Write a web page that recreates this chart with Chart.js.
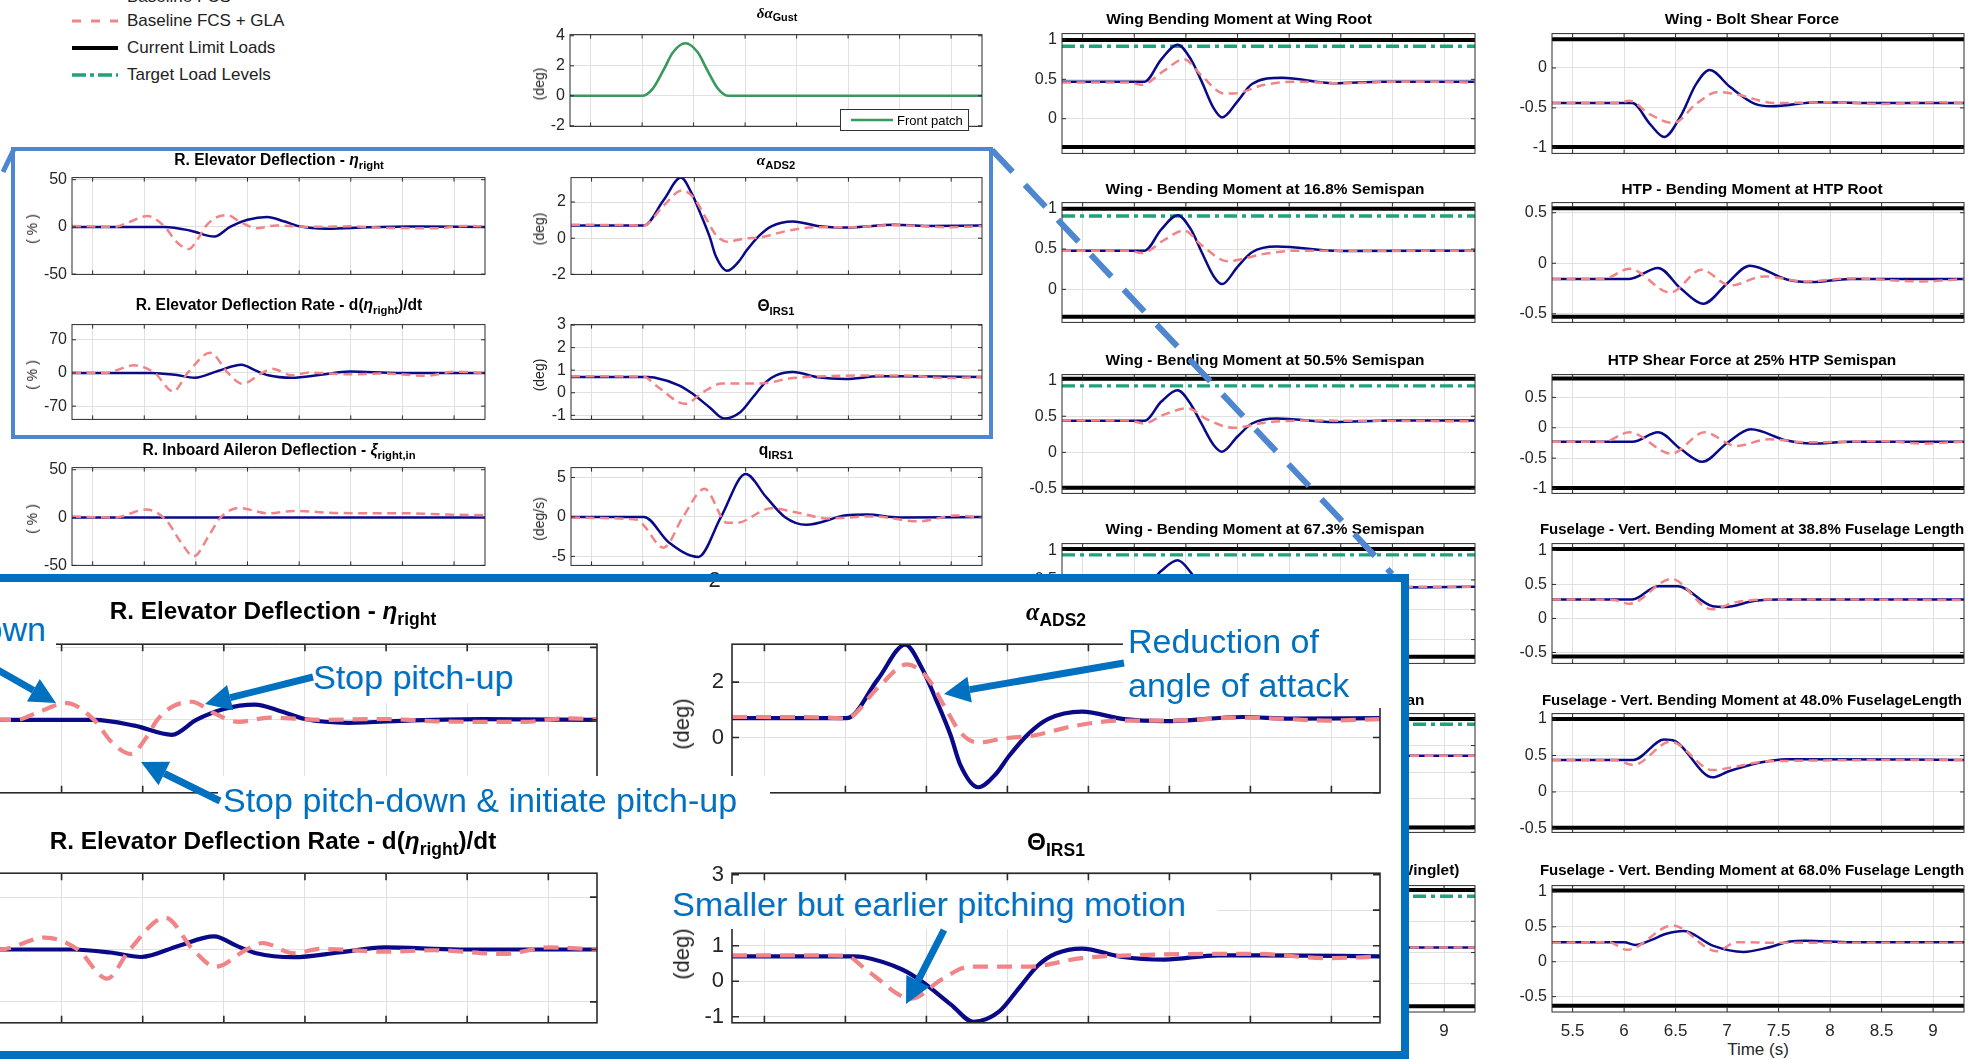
<!DOCTYPE html>
<html>
<head>
<meta charset="utf-8">
<title>Gust response - Baseline FCS vs. GLA</title>
<script src="https://cdn.jsdelivr.net/npm/chart.js@4.4.1/dist/chart.umd.min.js"></script>
<style>
  html, body { margin: 0; padding: 0; background: #fff; }
  body { position: relative; width: 1987px; height: 1059px; overflow: hidden; font-family: 'Liberation Sans', Arial, sans-serif; color: #000; }
  canvas { position: absolute; }
  .txt { position: absolute; white-space: nowrap; line-height: 1; }
  .ttl { font-weight: bold; transform: translateX(-50%); }
  .ttl sub { font-size: 72%; vertical-align: -0.32em; line-height: 0; }
  .ylab { transform: translate(-50%, -50%) rotate(-90deg); color: #262626; }
  .note { color: #0070c0; font-size: 34px; background: #fff; z-index: 6; }
  .g { font-family: 'Liberation Serif', 'DejaVu Serif', serif; }
</style>
</head>
<body>
<script>
// time axis (s)
const timeMin = 5.3, timeMax = 9.3;
const timeTicks = [5.5, 6, 6.5, 7, 7.5, 8, 8.5, 9];

// gust input, front patch (deg)
const gustFront = [[5.3,0],[6.0,0],[6.1,0.45],[6.21,1.75],[6.3,2.9],[6.42,3.5],[6.54,2.9],[6.63,1.75],[6.74,0.45],[6.84,0],[9.3,0]];

// R. elevator deflection (%)
const elevBase = [[5.3,0],[6.2,0],[6.45,-4],[6.68,-10.3],[6.83,0],[7.0,7.5],[7.19,10.5],[7.35,6],[7.5,0.6],[7.77,-2],[8.16,-0.4],[8.6,0.5],[9.3,0]];
const elevGla = [[5.3,1],[5.72,0],[5.85,5],[6.03,11.5],[6.2,0],[6.31,-15.5],[6.43,-23.5],[6.52,-12.5],[6.59,0],[6.68,9],[6.8,12.5],[6.94,4.6],[7.09,-1.4],[7.28,1.6],[7.59,0],[8.0,0.6],[8.3,-1],[8.85,-1.4],[9.1,1],[9.3,0.5]];

// alpha ADS2 (deg)
const alphaBase = [[5.3,0.7],[6.01,0.7],[6.2,2.1],[6.37,3.35],[6.47,2.53],[6.56,1.36],[6.65,0.07],[6.71,-1.0],[6.82,-1.8],[6.93,-1.31],[7.01,-0.67],[7.13,0.13],[7.25,0.66],[7.46,0.93],[7.72,0.66],[7.97,0.59],[8.45,0.74],[8.75,0.68],[9.3,0.7]];
const alphaGla = [[5.3,0.74],[5.9,0.72],[6.0,0.68],[6.2,1.79],[6.38,2.64],[6.5,2.2],[6.61,1.14],[6.71,0.18],[6.82,-0.19],[6.98,-0.03],[7.16,0.07],[7.4,0.4],[7.7,0.61],[8.0,0.61],[8.45,0.72],[8.75,0.66],[8.96,0.61],[9.3,0.66]];

// R. elevator deflection rate (%/s)
const rateBase = [[5.3,0],[6.07,0],[6.3,-4],[6.49,-10],[6.72,4.8],[6.94,17.5],[7.08,4.8],[7.2,-5],[7.43,-10.3],[7.71,-4],[7.99,2.8],[8.45,0],[9.3,0]];
const rateGla = [[5.3,1],[5.62,0],[5.9,16],[6.1,0],[6.28,-39],[6.42,0],[6.64,42.5],[6.81,0],[6.95,-23],[7.14,0],[7.24,8.7],[7.43,-5],[7.6,0.8],[8.0,-3],[8.3,-1],[8.73,-6],[9.0,2.8],[9.3,0]];

// theta IRS1 (deg)
const thetaBase = [[5.3,0.7],[6.05,0.7],[6.11,0.68],[6.35,0.33],[6.47,0],[6.65,-0.65],[6.79,-1.14],[6.95,-0.85],[7.07,-0.2],[7.19,0.45],[7.3,0.78],[7.46,0.92],[7.7,0.69],[7.97,0.61],[8.3,0.73],[8.57,0.73],[9.3,0.7]];
const thetaGla = [[5.3,0.73],[6.0,0.72],[6.14,0.28],[6.41,-0.49],[6.59,0.04],[6.77,0.41],[7.01,0.41],[7.13,0.41],[7.46,0.65],[7.76,0.73],[8.54,0.77],[8.96,0.65],[9.3,0.69]];

// R. inboard aileron deflection (%)
const aileronBase = [[5.3,0],[9.3,0]];
const aileronGla = [[5.3,1.2],[5.71,0],[6.02,8.4],[6.21,-2.5],[6.35,-25],[6.48,-40.5],[6.62,-20],[6.73,-1],[6.92,10],[7.2,4.4],[7.45,6.9],[7.88,4.7],[8.56,4.4],[8.93,3.1],[9.3,2.5]];

// q IRS1 (deg/s)
const qBase = [[5.3,0],[6.01,0],[6.25,-3.2],[6.54,-5.06],[6.76,0],[7.0,5.43],[7.2,2.5],[7.38,0],[7.59,-1.0],[7.98,0.2],[8.18,0.3],[8.49,-0.07],[9.3,0]];
const qGla = [[5.3,-0.1],[5.95,-0.37],[6.01,-1.1],[6.2,-3.9],[6.39,0],[6.6,3.56],[6.82,-0.75],[6.91,-0.75],[7.25,1.1],[7.5,0.56],[7.8,-0.19],[8.24,0.07],[8.68,-0.56],[9.05,0.19],[9.3,-0.1]];

// loads, normalised
const rootBase = [[5.3,0.47],[6.1,0.47],[6.26,0.75],[6.42,0.94],[6.55,0.75],[6.65,0.48],[6.77,0.13],[6.85,0.016],[7.0,0.22],[7.14,0.44],[7.43,0.52],[7.93,0.45],[8.4,0.47],[9.3,0.47]];
const rootGla = [[5.3,0.46],[5.95,0.46],[6.07,0.43],[6.3,0.62],[6.48,0.756],[6.65,0.55],[6.87,0.32],[6.96,0.32],[7.26,0.43],[7.56,0.47],[8.0,0.45],[8.6,0.47],[9.3,0.46]];
const rootLimits = [1.0, -0.36], rootTarget = 0.92;

const boltBase = [[5.3,-0.44],[6.08,-0.44],[6.25,-0.7],[6.39,-0.865],[6.55,-0.6],[6.7,-0.2],[6.83,-0.026],[7.03,-0.24],[7.27,-0.45],[7.43,-0.48],[7.88,-0.43],[8.49,-0.44],[9.3,-0.44]];
const boltGla = [[5.3,-0.44],[5.95,-0.44],[6.05,-0.41],[6.25,-0.58],[6.48,-0.69],[6.7,-0.45],[6.91,-0.3],[7.12,-0.34],[7.46,-0.44],[8.0,-0.43],[8.5,-0.45],[9.0,-0.43],[9.3,-0.44]];
const boltLimits = [0.36, -0.99];

const s168Base = [[5.3,0.48],[6.1,0.48],[6.26,0.74],[6.42,0.92],[6.55,0.74],[6.65,0.47],[6.77,0.16],[6.85,0.065],[7.0,0.28],[7.14,0.46],[7.38,0.53],[7.99,0.475],[9.3,0.48]];
const s168Gla = [[5.3,0.48],[5.95,0.48],[6.07,0.45],[6.3,0.62],[6.48,0.73],[6.65,0.55],[6.9,0.35],[7.26,0.44],[7.56,0.48],[9.3,0.48]];
const s168Limits = [1.0, -0.34], s168Target = 0.91;

const htpRootBase = [[5.3,-0.155],[6.05,-0.155],[6.33,-0.046],[6.55,-0.25],[6.77,-0.4],[7.0,-0.2],[7.22,-0.024],[7.58,-0.16],[7.82,-0.186],[8.19,-0.155],[9.3,-0.155]];
const htpRootGla = [[5.3,-0.155],[5.8,-0.155],[6.05,-0.055],[6.45,-0.29],[6.75,-0.064],[7.03,-0.22],[7.36,-0.13],[7.76,-0.18],[8.2,-0.15],[8.9,-0.18],[9.3,-0.155]];
const htpRootLimits = [0.545, -0.53];

const s505Base = [[5.3,0.437],[6.1,0.437],[6.26,0.7],[6.42,0.86],[6.55,0.66],[6.65,0.4],[6.77,0.1],[6.85,0.01],[7.0,0.22],[7.14,0.4],[7.38,0.47],[7.93,0.42],[8.5,0.44],[9.3,0.44]];
const s505Gla = [[5.3,0.44],[5.95,0.44],[6.09,0.4],[6.3,0.53],[6.52,0.61],[6.7,0.46],[6.96,0.34],[7.26,0.41],[7.6,0.44],[9.3,0.43]];
const s505Limits = [1.02, -0.49], s505Target = 0.92;

const htpShearBase = [[5.3,-0.23],[6.08,-0.23],[6.33,-0.075],[6.55,-0.35],[6.76,-0.56],[7.0,-0.25],[7.23,-0.025],[7.58,-0.21],[7.82,-0.26],[8.2,-0.23],[9.3,-0.23]];
const htpShearGla = [[5.3,-0.23],[5.8,-0.23],[6.05,-0.075],[6.46,-0.425],[6.78,-0.075],[7.09,-0.3],[7.4,-0.19],[7.8,-0.24],[8.5,-0.22],[8.9,-0.26],[9.3,-0.23]];
const htpShearLimits = [0.81, -0.99];

const s673Base = [[5.3,0.385],[6.1,0.385],[6.26,0.65],[6.42,0.83],[6.55,0.62],[6.65,0.35],[6.85,-0.05],[7.14,0.33],[7.38,0.42],[7.93,0.37],[9.3,0.385]];
const s673Gla = [[5.3,0.385],[6.07,0.35],[6.52,0.57],[6.96,0.28],[7.6,0.385],[9.3,0.385]];
const s673Limits = [1.02, -0.79], s673Target = 0.92;

const fus388Base = [[5.3,0.28],[6.08,0.28],[6.33,0.475],[6.52,0.475],[6.86,0.18],[6.98,0.17],[7.27,0.26],[7.52,0.28],[9.3,0.28]];
const fus388Gla = [[5.3,0.28],[5.9,0.27],[6.05,0.215],[6.46,0.58],[6.85,0.135],[7.09,0.24],[7.5,0.28],[9.3,0.27]];
const fus388Limits = [1.02, -0.56];

const s840Base = [[5.3,0.31],[9.3,0.31]];
const s840Gla = [[5.3,0.31],[9.3,0.31]];
const s840Limits = [1.0, -1.04], s840Target = 0.9;

const fus48Base = [[5.3,0.44],[6.09,0.44],[6.39,0.72],[6.49,0.7],[6.86,0.2],[7.01,0.28],[7.31,0.4],[7.58,0.45],[9.3,0.44]];
const fus48Gla = [[5.3,0.44],[5.9,0.44],[6.09,0.37],[6.45,0.69],[6.86,0.3],[7.09,0.35],[7.39,0.42],[9.3,0.44]];
const fus48Limits = [1.0, -0.49];

const tipBase = [[5.3,0.08],[9.3,0.08]];
const tipGla = [[5.3,0.08],[9.3,0.08]];
const tipLimits = [1.0, -0.86], tipTarget = 0.9;

const fus68Base = [[5.3,0.28],[6.0,0.28],[6.11,0.24],[6.26,0.31],[6.41,0.4],[6.58,0.44],[6.86,0.23],[7.16,0.14],[7.39,0.2],[7.61,0.29],[7.76,0.3],[8.2,0.28],[9.3,0.28]];
const fus68Gla = [[5.3,0.27],[5.85,0.28],[6.03,0.17],[6.47,0.52],[6.9,0.15],[7.09,0.28],[7.5,0.27],[9.3,0.27]];
const fus68Limits = [1.02, -0.63];

const FONT = "'Liberation Sans', Arial, sans-serif";
const NAVY = '#0a0a88', PINK = '#f18486', GREEN = '#1fa37a', GUSTGREEN = '#38995c';
const GRID = '#e0e0e0', AXIS = '#2a2a2a', LABEL = '#262626', BLUE = '#0070c0', LIGHTBLUE = '#4f86d0';

Chart.defaults.font.family = FONT;

const pts = a => a.map(([x, y]) => ({ x, y }));
const flat = v => pts([[timeMin, v], [timeMax, v]]);

// matlab-like box with inward ticks
const boxPlugin = {
  id: 'box',
  afterDraw(chart, args, opts) {
    const { ctx, chartArea: a, scales } = chart;
    const t = opts.tick;
    ctx.save();
    ctx.strokeStyle = AXIS;
    ctx.lineWidth = opts.lw;
    ctx.strokeRect(a.left, a.top, a.right - a.left, a.bottom - a.top);
    ctx.beginPath();
    scales.x.ticks.forEach(k => {
      const px = scales.x.getPixelForValue(k.value);
      ctx.moveTo(px, a.bottom); ctx.lineTo(px, a.bottom - t);
      ctx.moveTo(px, a.top); ctx.lineTo(px, a.top + t);
    });
    scales.y.ticks.forEach(k => {
      const py = scales.y.getPixelForValue(k.value);
      ctx.moveTo(a.left, py); ctx.lineTo(a.left + t, py);
      ctx.moveTo(a.right, py); ctx.lineTo(a.right - t, py);
    });
    ctx.stroke();
    ctx.restore();
  }
};

function addChart(o) {
  const [x0, y0, x1, y1] = o.plot;
  const big = !!o.big;
  const padL = o.padL || 46, padT = big ? 18 : 12, padR = 12, padB = o.xLabels ? 34 : 6;
  const w = Math.round(x1 - x0 + padL + padR), h = Math.round(y1 - y0 + padT + padB);
  const cv = document.createElement('canvas');
  cv.width = w; cv.height = h;
  cv.style.left = (x0 - padL) + 'px';
  cv.style.top = (y0 - padT) + 'px';
  cv.style.zIndex = o.z || 1;
  document.body.appendChild(cv);

  const lw = big ? 4.2 : 2.5;
  const ds = [];
  if (o.gla) ds.push({ data: pts(o.gla), borderColor: PINK, borderWidth: lw, borderDash: big ? [15, 9] : [9, 5.5], cubicInterpolationMode: 'monotone', order: 1 });
  if (o.base) ds.push({ data: pts(o.base), borderColor: NAVY, borderWidth: lw, cubicInterpolationMode: 'monotone', order: 2 });
  if (o.gust) ds.push({ data: pts(o.gust), borderColor: GUSTGREEN, borderWidth: 2.6, cubicInterpolationMode: 'monotone', order: 2 });
  if (o.target !== undefined) ds.push({ data: flat(o.target), borderColor: GREEN, borderWidth: 3.4, borderDash: [13, 5, 4, 5], order: 3 });
  (o.limits || []).forEach(v => ds.push({ data: flat(v), borderColor: '#000', borderWidth: 4, order: 4 }));

  new Chart(cv, {
    type: 'line',
    data: { datasets: ds },
    options: {
      responsive: false,
      animation: false,
      devicePixelRatio: 1,
      layout: { padding: { top: padT, right: padR, left: 0, bottom: 0 } },
      elements: { point: { radius: 0 }, line: { fill: false } },
      plugins: {
        legend: { display: false },
        tooltip: { enabled: false },
        box: { tick: big ? 7 : 4, lw: big ? 1.6 : 1 }
      },
      scales: {
        x: {
          type: 'linear', min: timeMin, max: timeMax,
          afterBuildTicks: s => { s.ticks = timeTicks.map(v => ({ value: v })); },
          afterFit: s => { s.height = padB; },
          grid: { color: GRID, drawTicks: false },
          border: { display: false },
          ticks: { display: !!o.xLabels, autoSkip: false, maxRotation: 0, padding: 9, color: LABEL, font: { size: 17 }, callback: v => String(v) }
        },
        y: {
          type: 'linear', min: o.range[0], max: o.range[1],
          afterBuildTicks: s => { s.ticks = o.ticks.map(v => ({ value: v })); },
          afterFit: s => { s.width = padL; },
          grid: { color: GRID, drawTicks: false },
          border: { display: false },
          ticks: { padding: big ? 8 : 5, color: LABEL, font: { size: o.tickSize || 16 }, callback: v => String(v) }
        }
      }
    },
    plugins: [boxPlugin]
  });
}

function addText(html, x, y, cls, css) {
  const d = document.createElement('div');
  d.className = cls;
  d.innerHTML = html;
  d.style.cssText = `left:${x}px;top:${y}px;` + (css || '');
  document.body.appendChild(d);
  return d;
}
const title = (html, cx, base, size, z) => addText(html, cx, base - 0.86 * size, 'txt ttl', `font-size:${size}px;z-index:${z || 1}`);
const yLabel = (s, cx, cy, size, z) => addText(s, cx, cy, 'txt ylab', `font-size:${size}px;z-index:${z || 1}`);
const note = (s, x, cy, right) => addText(s, x, cy - 19, 'txt note', right ? 'transform:translateX(-100%)' : '');
const whiteBox = (x0, y0, x1, y1) => addText('', x0, y0, 'txt', `width:${x1 - x0}px;height:${y1 - y0}px;background:#fff;z-index:5`);

// ---------- left column: small plots ----------
const ST = 15.6;
addChart({ plot: [570, 32, 982, 135], range: [-2.04, 4.08], ticks: [-2, 0, 2, 4], gust: gustFront, padL: 40 });
title('<i class="g">δα</i><sub>Gust</sub>', 777, 18, 15);
yLabel('(deg)', 539, 84, 14);
addText(`<svg width="44" height="20" style="position:absolute;left:8px;top:0"><line x1="2" y1="10" x2="44" y2="10" stroke="${GUSTGREEN}" stroke-width="2.6"/></svg><span style="position:absolute;left:56px;top:4px;font-size:13px">Front patch</span>`,
  840, 109, 'txt', 'width:127px;height:20px;border:1px solid #333;background:#fff;z-index:2');

addChart({ plot: [72, 175, 485, 283], range: [-50.3, 52.2], ticks: [-50, 0, 50], base: elevBase, gla: elevGla, padL: 40 });
title('R. Elevator Deflection - <i>η</i><sub>right</sub>', 279, 165, ST);
yLabel('( % )', 32, 229, 14);

addChart({ plot: [571, 175, 982, 283], range: [-2, 3.35], ticks: [-2, 0, 2], base: alphaBase, gla: alphaGla, padL: 40 });
title('<i class="g">α</i><sub>ADS2</sub>', 776, 165, ST);
yLabel('(deg)', 539, 229, 14);

addChart({ plot: [72, 322, 485, 428], range: [-98, 102], ticks: [-70, 0, 70], base: rateBase, gla: rateGla, padL: 40 });
title('R. Elevator Deflection Rate - d(<i>η</i><sub>right</sub>)/dt', 279, 310, ST);
yLabel('( % )', 32, 375, 14);

addChart({ plot: [571, 322, 982, 428], range: [-1.18, 3.02], ticks: [-1, 0, 1, 2, 3], base: thetaBase, gla: thetaGla, padL: 40 });
title('Θ<sub>IRS1</sub>', 776, 311, ST);
yLabel('(deg)', 539, 375, 14);

addChart({ plot: [72, 465, 485, 574], range: [-50, 52.2], ticks: [-50, 0, 50], base: aileronBase, gla: aileronGla, padL: 40 });
title('R. Inboard Aileron Deflection - <i>ξ</i><sub>right,in</sub>', 279, 455, ST);
yLabel('( % )', 32, 519, 14);

addChart({ plot: [571, 465, 982, 574], range: [-6.14, 6.25], ticks: [-5, 0, 5], base: qBase, gla: qGla, padL: 40 });
title('q<sub>IRS1</sub>', 776, 455, ST);
yLabel('(deg/s)', 539, 519, 14);

// ---------- right columns: loads ----------
const colA = [1062, 1475], colB = [1552, 1964];
const rows = [[31, 162], [200, 331], [372, 502], [541, 672], [711, 841], [883, 1012]];
const rowBase = [24, 194, 365, 534, 705, 875];
const cA = 1265, cB = 1752, RT = 15.4;
const P = (col, r) => [col[0], rows[r][0], col[1], rows[r][1]];

addChart({ plot: P(colA, 0), range: [-0.44, 1.08], ticks: [0, 0.5, 1], base: rootBase, gla: rootGla, limits: rootLimits, target: rootTarget });
title('Wing Bending Moment at Wing Root', 1239, rowBase[0], RT);
addChart({ plot: P(colB, 0), range: [-1.07, 0.43], ticks: [-1, -0.5, 0], base: boltBase, gla: boltGla, limits: boltLimits });
title('Wing - Bolt Shear Force', cB, rowBase[0], RT);

addChart({ plot: P(colA, 1), range: [-0.41, 1.076], ticks: [0, 0.5, 1], base: s168Base, gla: s168Gla, limits: s168Limits, target: s168Target });
title('Wing - Bending Moment at 16.8% Semispan', cA, rowBase[1], RT);
addChart({ plot: P(colB, 1), range: [-0.585, 0.6], ticks: [-0.5, 0, 0.5], base: htpRootBase, gla: htpRootGla, limits: htpRootLimits });
title('HTP - Bending Moment at HTP Root', cB, rowBase[1], RT);

addChart({ plot: P(colA, 2), range: [-0.567, 1.076], ticks: [-0.5, 0, 0.5, 1], base: s505Base, gla: s505Gla, limits: s505Limits, target: s505Target });
title('Wing - Bending Moment at 50.5% Semispan', cA, rowBase[2], RT);
addChart({ plot: P(colB, 2), range: [-1.08, 0.875], ticks: [-1, -0.5, 0, 0.5], base: htpShearBase, gla: htpShearGla, limits: htpShearLimits });
title('HTP Shear Force at 25% HTP Semispan', cB, rowBase[2], RT);

addChart({ plot: P(colA, 3), range: [-0.9, 1.11], ticks: [-0.5, 0, 0.5, 1], base: s673Base, gla: s673Gla, limits: s673Limits, target: s673Target });
title('Wing - Bending Moment at 67.3% Semispan', cA, rowBase[3], RT);
addChart({ plot: P(colB, 3), range: [-0.66, 1.1], ticks: [-0.5, 0, 0.5, 1], base: fus388Base, gla: fus388Gla, limits: fus388Limits });
title('Fuselage - Vert. Bending Moment at 38.8% Fuselage Length', cB, rowBase[3], 15);

addChart({ plot: P(colA, 4), range: [-1.13, 1.1], ticks: [-1, -0.5, 0, 0.5, 1], base: s840Base, gla: s840Gla, limits: s840Limits, target: s840Target });
title('Wing - Bending Moment at 84.0% Semispan', cA, rowBase[4], RT);
addChart({ plot: P(colB, 4), range: [-0.555, 1.075], ticks: [-0.5, 0, 0.5, 1], base: fus48Base, gla: fus48Gla, limits: fus48Limits });
title('Fuselage - Vert. Bending Moment at 48.0% FuselageLength', cB, rowBase[4], 15);

addChart({ plot: P(colA, 5), range: [-0.95, 1.07], ticks: [-0.5, 0, 0.5, 1], base: tipBase, gla: tipGla, limits: tipLimits, target: tipTarget, xLabels: true });
title('Wing - Bending Moment at 94.0% Semispan (Winglet)', cA, rowBase[5], RT);
addChart({ plot: P(colB, 5), range: [-0.72, 1.09], ticks: [-0.5, 0, 0.5, 1], base: fus68Base, gla: fus68Gla, limits: fus68Limits, xLabels: true });
title('Fuselage - Vert. Bending Moment at 68.0% Fuselage Length', cB, rowBase[5], 15);
addText('Time (s)', 1758, 1041, 'txt', 'font-size:17px;transform:translateX(-50%);color:#262626');

// ---------- legend (top left) ----------
addText(`<svg width="130" height="100" style="position:absolute;left:0;top:0;overflow:visible">
  <line x1="72" y1="-3" x2="118" y2="-3" stroke="${NAVY}" stroke-width="3"/>
  <line x1="72" y1="21" x2="118" y2="21" stroke="${PINK}" stroke-width="3" stroke-dasharray="9 10"/>
  <line x1="72" y1="48" x2="118" y2="48" stroke="#000" stroke-width="4"/>
  <line x1="72" y1="75" x2="118" y2="75" stroke="${GREEN}" stroke-width="3.5" stroke-dasharray="14 4 4 4"/>
</svg>`, 0, 0, 'txt', 'z-index:1');
[['Baseline FCS', -2.6], ['Baseline FCS + GLA', 21.5], ['Current Limit Loads', 48.5], ['Target Load Levels', 75.5]]
  .forEach(([s, y]) => addText(s, 127, y - 9.5, 'txt', 'font-size:17px;color:#222'));

// ---------- highlight box + connectors ----------
addText('', 11, 147, 'txt', `width:982px;height:292px;box-sizing:border-box;border:4px solid ${LIGHTBLUE};z-index:2`);
addText(`<svg width="1987" height="1059" style="position:absolute;left:0;top:0;overflow:visible">
  <line x1="992" y1="150" x2="1392" y2="574" stroke="${LIGHTBLUE}" stroke-width="6" stroke-dasharray="30 18"/>
  <line x1="14" y1="149" x2="3" y2="172" stroke="${LIGHTBLUE}" stroke-width="5"/>
</svg>`, 0, 0, 'txt', 'z-index:2');

// ---------- zoomed inset ----------
addText('', -20, 574, 'txt', 'width:1429px;height:500px;background:#fff;z-index:3');
addText('', -20, 574, 'txt', `width:1429px;height:485px;box-sizing:border-box;border:8px solid ${BLUE};z-index:7`);
addText('-2', 711, 569, 'txt', 'font-size:22px;transform:translateX(-50%);color:#262626;z-index:4');

const BT = 24.3;
addChart({ plot: [-52, 641, 597, 808], range: [-50.3, 52.2], ticks: [-50, 0, 50], base: elevBase, gla: elevGla, big: true, z: 4, tickSize: 22, padL: 46 });
title('R. Elevator Deflection - <i>η</i><sub>right</sub>', 273, 620, BT, 4);

addChart({ plot: [732, 641, 1380, 808], range: [-2, 3.37], ticks: [-2, 0, 2], base: alphaBase, gla: alphaGla, big: true, z: 4, tickSize: 22, padL: 40 });
title('<i class="g">α</i><sub>ADS2</sub>', 1056, 621, BT, 4);
yLabel('(deg)', 682, 724, 22, 4);

addChart({ plot: [-52, 870, 597, 1038], range: [-98, 102], ticks: [-70, 0, 70], base: rateBase, gla: rateGla, big: true, z: 4, tickSize: 22, padL: 46 });
title('R. Elevator Deflection Rate - d(<i>η</i><sub>right</sub>)/dt', 273, 850, BT, 4);

addChart({ plot: [732, 870, 1380, 1038], range: [-1.17, 3.04], ticks: [-1, 0, 1, 2, 3], base: thetaBase, gla: thetaGla, big: true, z: 4, tickSize: 22, padL: 40 });
title('Θ<sub>IRS1</sub>', 1056, 851, BT, 4);
yLabel('(deg)', 682, 954, 22, 4);

// ---------- annotations ----------
whiteBox(-10, 605, 56, 655);
whiteBox(310, 652, 519, 703);
whiteBox(218, 776, 770, 818);
whiteBox(1123, 628, 1383, 708);
whiteBox(660, 884, 1217, 929);
note('Initiate pitch-down', 46, 631, true);
note('Stop pitch-up', 313, 679);
note('Stop pitch-down &amp; initiate pitch-up', 223, 802);
note('Reduction of', 1128, 643);
note('angle of attack', 1128, 687);
note('Smaller but earlier pitching motion', 672, 906);

function arrow(x1, y1, x2, y2) {
  const dx = x2 - x1, dy = y2 - y1, L = Math.hypot(dx, dy), ux = dx / L, uy = dy / L, nx = -uy, ny = ux;
  const bx = x2 - ux * 26, by = y2 - uy * 26;
  return `<line x1="${x1}" y1="${y1}" x2="${bx}" y2="${by}" stroke="${BLUE}" stroke-width="7"/>` +
    `<polygon points="${x2},${y2} ${bx + nx * 13},${by + ny * 13} ${bx - nx * 13},${by - ny * 13}" fill="${BLUE}"/>`;
}
addText(`<svg width="1987" height="1059" style="position:absolute;left:0;top:0;overflow:visible">
  ${arrow(-20, 660, 56, 703)}
  ${arrow(313, 677, 205, 704)}
  ${arrow(220, 801, 141, 762)}
  ${arrow(1124, 663, 944, 694)}
  ${arrow(944, 930, 906, 1004)}
</svg>`, 0, 0, 'txt', 'z-index:6');
</script>
</body>
</html>
